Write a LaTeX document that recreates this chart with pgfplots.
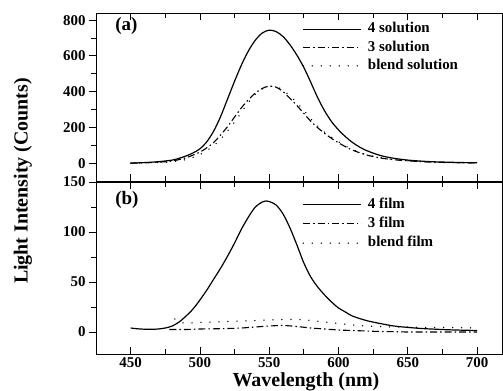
\documentclass[border=0pt]{standalone}
\usepackage{pgfplots}
\pgfplotsset{compat=1.18}
\usepackage{fontspec}
\setmainfont{Liberation Serif}
\newcommand{\fs}[1]{\fontsize{#1}{#1}\selectfont\bfseries}
\begin{document}
\begin{tikzpicture}
\useasboundingbox (-96bp,13bp) rectangle (407bp,-378bp);
\pgfplotsset{
  every axis/.append style={
    scale only axis, width=406bp,
    xmin=425, xmax=718,
    xtick={450,500,...,700}, minor x tick num=1,
    minor y tick num=1,
    xtick pos=both, ytick pos=left,
    xtick align=inside, ytick align=outside,
    major tick length=7bp, minor tick length=5bp,
    axis line style={line width=0.9bp},
    every tick/.style={black, line width=0.8bp},
    /pgf/number format/assume math mode=true,
    tick label style={font=\fs{15}},
    legend cell align=left,
    legend style={draw=none, fill=none, font=\fs{15}, anchor=north west,
      inner sep=0pt,
      nodes={inner xsep=2bp, inner ysep=1bp, text height=10bp, text depth=3bp},
      /tikz/every odd column/.append style={column sep=4bp}},
    legend image code/.code={\draw[#1] (0bp,0bp) -- (58bp,0bp);},
  },
  s4/.style={black, line width=1.2bp, smooth},
  s3/.style={black, line width=1.1bp, smooth, dash pattern=on 7bp off 3bp on 1.5bp off 3bp},
  sb/.style={black, line width=1.5bp, smooth, line cap=round, dash pattern=on 0pt off 9bp},
}
\begin{axis}[at={(0,0)}, anchor=north west, height=168bp,
  ymin=-100, ymax=840, ytick={0,200,...,800}, xticklabels={},
  legend style={at={(rel axis cs:0.508,0.95)}, row sep=3.4bp}]
\addplot[s4] coordinates {
(450,0)(460,3)(470,8)(480,17)(485,27)(490,40)(495,57)(500,80)(505,120)(510,180)
(515,262)(520,360)(525,458)(530,550)(535,628)(540,688)(545,728)(550,744)(555,736)
(560,708)(565,662)(570,604)(575,535)(580,452)(585,366)(590,292)(595,232)(600,186)
(605,148)(610,116)(615,91)(620,71)(630,43)(640,27)(650,17)(660,11)(670,7)(680,5)
(690,3)(700,2)};
\addlegendentry{4 solution}
\addplot[s3] coordinates {
(450,0)(460,2)(470,5)(480,12)(490,30)(500,62)(505,86)(510,116)(515,158)(520,205)
(525,258)(530,310)(535,355)(540,392)(545,418)(550,431)(555,425)(560,400)(565,362)
(570,322)(575,278)(580,234)(585,198)(590,166)(595,138)(600,114)(605,92)(610,73)
(620,46)(630,29)(640,19)(650,13)(660,8)(670,5)(680,3)(690,2)(700,1)};
\addlegendentry{3 solution}
\addplot[sb] coordinates {
(450,0)(460,1)(470,3)(480,8)(490,20)(500,48)(505,70)(510,98)(515,135)(520,180)
(525,230)(530,285)(535,340)(540,385)(545,415)(550,428)(555,428)(560,408)(565,375)
(570,338)(575,295)(580,248)(585,207)(590,173)(595,145)(600,120)(605,96)(610,76)
(620,48)(630,31)(640,20)(650,13)(660,8)(670,5)(680,3)(690,2)(700,1)};
\addlegendentry{blend solution}
\node[anchor=west, inner sep=0pt, font=\fs{19}] at (rel axis cs:0.047,0.925) {(a)};
\end{axis}
\begin{axis}[at={(0,-169bp)}, anchor=north west, height=172bp,
  ymin=-22, ymax=150, ytick={0,50,100,150},
  legend style={at={(rel axis cs:0.508,0.913)}, row sep=4.2bp}]
\addplot[s4] coordinates {
(450,4)(455,3.2)(460,2.8)(465,2.7)(470,3)(475,4)(480,6)(485,10)(490,16)(495,23)
(500,32)(505,42)(510,53)(515,64)(520,76)(525,89)(530,103)(535,115)(540,125)
(545,130)(548,131)(550,130.5)(555,127)(560,118)(565,104)(570,87)(575,69)(580,55)
(585,45)(590,37)(595,30)(600,24)(605,20)(610,16)(620,11.5)(630,8.5)(640,6)
(650,4.6)(660,3.5)(670,2.8)(680,2.2)(690,1.8)(700,1.5)};
\addlegendentry{4 film}
\addplot[s3] coordinates {
(478,2.5)(490,2.5)(500,3)(510,3.2)(520,3.5)(530,4)(540,5)(550,6)(560,6.5)(570,5.5)
(580,4)(590,3)(600,2)(610,1.5)(620,1)(630,0.5)(640,0.3)(650,0)(660,0)(680,0)(700,0)};
\addlegendentry{3 film}
\addplot[sb] coordinates {
(482,13)(488,9)(500,9.5)(510,10)(520,10.5)(530,11)(540,11.5)(550,12)(560,12.5)
(570,12.5)(580,11.5)(590,10)(600,8.5)(610,7)(620,6)(630,5.5)(640,5)(650,5)(660,4.5)
(680,4.5)(700,4)};
\addlegendentry{blend film}
\node[anchor=west, inner sep=0pt, font=\fs{19}] at (rel axis cs:0.047,0.895) {(b)};
\end{axis}
\node[rotate=90, font=\fs{20}] at (-73bp,-168bp) {Light Intensity (Counts)};
\node[font=\fs{20}] at (210bp,-369bp) {Wavelength (nm)};
\end{tikzpicture}
\end{document}
